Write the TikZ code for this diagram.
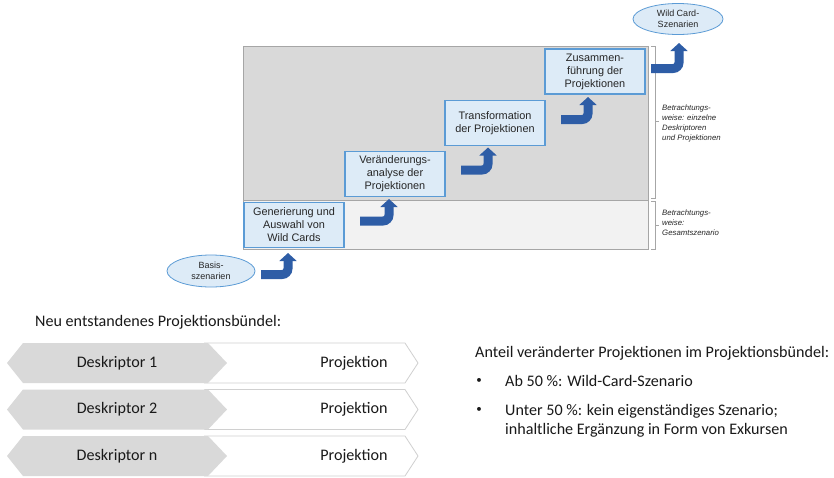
\documentclass[tikz,border=0pt]{standalone}
\usepackage{fontspec}
\setmainfont{Liberation Sans}
\newfontfamily\calib{Carlito}
\usetikzlibrary{arrows.meta,shapes.geometric,calc}
\definecolor{boxfill}{HTML}{DDEBF7}
\definecolor{boxline}{HTML}{5B9BD5}
\definecolor{arrowblue}{HTML}{2E5DA6}
\definecolor{darkreg}{HTML}{D9D9D9}
\definecolor{lightreg}{HTML}{F2F2F2}
\definecolor{frameline}{HTML}{A6A6A6}
\definecolor{chevgray}{HTML}{D9D9D9}
\definecolor{chevline}{HTML}{D0D0D0}
\definecolor{txt}{HTML}{262626}
\begin{document}
\begin{tikzpicture}[x=1pt,y=-1pt,
  stepbox/.style={draw=boxline, line width=1.1pt, fill=boxfill, minimum width=100pt, minimum height=45pt, align=center, text=txt, font=\fontsize{10.9}{13}\selectfont, inner sep=0pt},
  oval/.style={ellipse, draw=boxline, fill=boxfill, line width=0.8pt, inner sep=0pt, align=center, text=txt, font=\fontsize{9}{11}\selectfont},
  bent/.style={draw=arrowblue, line width=9pt, rounded corners=6pt, -{Triangle[length=8pt,width=17pt]}},
  sidelabel/.style={anchor=north west, align=left, inner sep=0pt, text=txt, font=\fontsize{7.8}{9.9}\selectfont\itshape},
  bracket/.style={draw=frameline, line width=0.7pt},
  bigtext/.style={inner sep=0pt, text=black!90, font=\calib\fontsize{16.1}{19}\selectfont},
  bullettext/.style={inner sep=0pt, text=black!90, font=\calib\fontsize{11}{13}\selectfont},
  graychev/.style={fill=chevgray},
  whitechev/.style={fill=white, draw=chevline, line width=0.8pt}
]
\useasboundingbox (0,0) rectangle (834,477);
\fill[white] (0,0) rectangle (834,477);

% regions
\fill[darkreg] (243,46) rectangle (648,200);
\fill[lightreg] (243,200) rectangle (648,249);
\draw[frameline, line width=0.8pt] (243,46) rectangle (648,249);
\draw[frameline, line width=0.8pt] (243,200) -- (648,200);

% brackets
\draw[bracket] (651,46) -- (655,46) -- (655,198) -- (651,198);
\draw[bracket] (655,121) -- (659,121);
\draw[bracket] (651,201) -- (655,201) -- (655,249) -- (651,249);
\draw[bracket] (655,225) -- (659,225);
\node[sidelabel] (lab1) at (662,104.5) {Betrachtungs-\\weise: einzelne\\Deskriptoren\\und Projektionen};
\node[sidelabel] (lab2) at (662,209.5) {Betrachtungs-\\weise:\\Gesamtszenario};

% step boxes
\node[stepbox] (gen) at (294,225) {Generierung und\\Auswahl von\\Wild Cards};
\node[stepbox] (ver) at (395,174) {Veränderungs-\\analyse der\\Projektionen};
\node[stepbox] (tra) at (495,123) {Transformation\\der Projektionen};
\node[stepbox] (zus) at (595,71.5) {Zusammen-\\führung der\\Projektionen};

% ellipses
\node[oval, minimum width=88pt, minimum height=32pt] (basis) at (211,271) {Basis-\\szenarien};
\node[oval, minimum width=90pt, minimum height=31pt] (wild) at (678,19) {Wild Card-\\Szenarien};

% bent arrows
\coordinate (a1s) at (261,274.5); \coordinate (a1e) at (288,253);
\coordinate (a2s) at (360,221);   \coordinate (a2e) at (389,199);
\coordinate (a3s) at (461,170);   \coordinate (a3e) at (488,147.5);
\coordinate (a4s) at (561,119.5); \coordinate (a4e) at (588,97);
\coordinate (a5s) at (651,68.5);  \coordinate (a5e) at (679,43);
\draw[bent] (a1s) -| (a1e);
\draw[bent] (a2s) -| (a2e);
\draw[bent] (a3s) -| (a3e);
\draw[bent] (a4s) -| (a4e);
\draw[bent] (a5s) -| (a5e);

% bottom left
\node[bigtext, anchor=west] (title) at (35,322) {Neu entstandenes Projektionsbündel:};
\foreach \y/\d [count=\i] in {363/1, 409.5/2, 456/n}{
  \draw[whitechev] (205,\y-20) -- (405,\y-20) -- (418,\y) -- (405,\y+20) -- (205,\y+20) -- (224,\y) -- cycle;
  \fill[graychev] (7,\y) -- (23,\y-20) -- (208,\y-20) -- (227,\y) -- (208,\y+20) -- (23,\y+20) -- cycle;
  \node[bigtext] (desk\i) at (117,\y) {Deskriptor \d};
  \node[bigtext] (proj\i) at (354,\y) {Projektion};
}

% bottom right
\node[bigtext, anchor=base west] (anteil) at (475,357) {Anteil veränderter Projektionen im Projektionsbündel:};
\node[bullettext] (b1) at (479,381) {•};
\node[bigtext, anchor=base west] (t1) at (505,386) {Ab 50 \%: Wild-Card-Szenario};
\node[bullettext] (b2) at (479,410) {•};
\node[bigtext, anchor=base west] (t2) at (505,415) {Unter 50 \%: kein eigenständiges Szenario;};
\node[bigtext, anchor=base west] (t3) at (505,434.5) {inhaltliche Ergänzung in Form von Exkursen};
\end{tikzpicture}
\end{document}
